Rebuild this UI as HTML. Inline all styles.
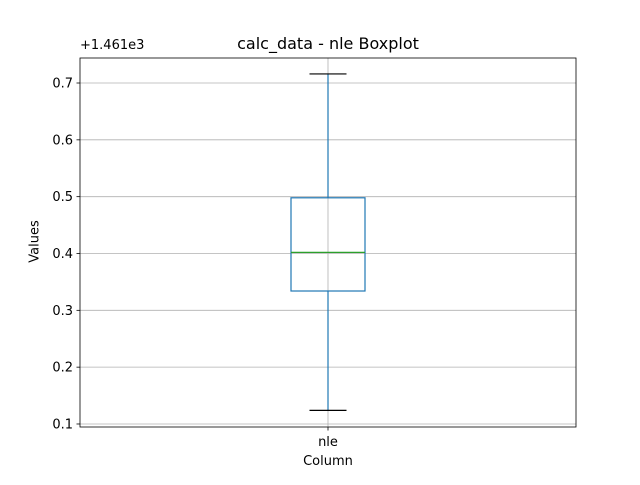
<!DOCTYPE html>
<html><head><meta charset="utf-8"><style>body{margin:0;background:#fff}svg{font-family:"DejaVu Sans","Liberation Sans",sans-serif}</style></head>
<body>
<svg id="c" width="640" height="480"></svg>
<script>
const categories=["nle"];
const whiskerLow=[0.124];
const q1=[0.334];
const median=[0.402];
const q3=[0.498];
const whiskerHigh=[0.716];
const yTicks=[0.1,0.2,0.3,0.4,0.5,0.6,0.7];
const NS="http://www.w3.org/2000/svg";
const svg=document.getElementById('c');
const L=80,R=576,T=58,B=427,ymin=0.0947,ymax=0.744;
const y=v=>B-(v-ymin)/(ymax-ymin)*(B-T);
const x=i=>L+(R-L)*(i+0.5)/categories.length;
function el(t,a,p){const e=document.createElementNS(NS,t);for(const k in a)e.setAttribute(k,a[k]);(p||svg).appendChild(e);return e;}
yTicks.forEach(v=>{
const g=el('line',{x1:L,x2:R,y1:y(v),y2:y(v),stroke:'#b0b0b0','stroke-width':0.8});


el('line',{x1:L-3.5,x2:L,y1:y(v),y2:y(v),stroke:'#000','stroke-width':0.8});
const t=el('text',{x:L-7,y:y(v)+4.5,'text-anchor':'end','font-size':13});t.textContent=v.toFixed(1);


});
categories.forEach((c,i)=>{
const cx=x(i);
const vg=el('line',{x1:cx,x2:cx,y1:T,y2:B,stroke:'#b0b0b0','stroke-width':0.8});


el('line',{x1:cx,x2:cx,y1:B,y2:B+3.5,stroke:'#000','stroke-width':0.8});
const lab=el('text',{x:cx,y:B+19,'text-anchor':'middle','font-size':13});lab.textContent=c;


const w1=el('line',{x1:cx,x2:cx,y1:y(q3[i]),y2:y(whiskerHigh[i]),stroke:'#1f77b4','stroke-width':1.2});


const w2=el('line',{x1:cx,x2:cx,y1:y(q1[i]),y2:y(whiskerLow[i]),stroke:'#1f77b4','stroke-width':1.2});


[whiskerHigh[i],whiskerLow[i]].forEach(v=>{
const cap=el('line',{x1:cx-18.5,x2:cx+18.5,y1:y(v),y2:y(v),stroke:'#000','stroke-width':1.2});


});
const box=el('rect',{x:cx-37,y:y(q3[i]),width:74,height:y(q1[i])-y(q3[i]),fill:'none',stroke:'#1f77b4','stroke-width':1.2});


const m=el('line',{x1:cx-37,x2:cx+37,y1:y(median[i]),y2:y(median[i]),stroke:'#2ca02c','stroke-width':1.2});


});
const fr=el('rect',{x:L,y:T,width:R-L,height:B-T,fill:'none',stroke:'#000','stroke-width':0.8});


</script>
<div style="position:absolute;left:0;top:0;width:640px;height:480px;pointer-events:none;font-family:'DejaVu Sans','Liberation Sans',sans-serif">
<div style="position:absolute;left:80px;width:496px;top:34px;text-align:center;font-size:16px">calc_data - nle Boxplot</div>
<div style="position:absolute;left:80px;top:38px;font-size:13px">+1.461e3</div>
<div style="position:absolute;left:80px;width:496px;top:454px;text-align:center;font-size:13px">Column</div>
<div style="position:absolute;left:-1px;top:234px;font-size:13px;transform:rotate(-90deg);transform-origin:center;width:72px;text-align:center">Values</div>
</div>
</body></html>
